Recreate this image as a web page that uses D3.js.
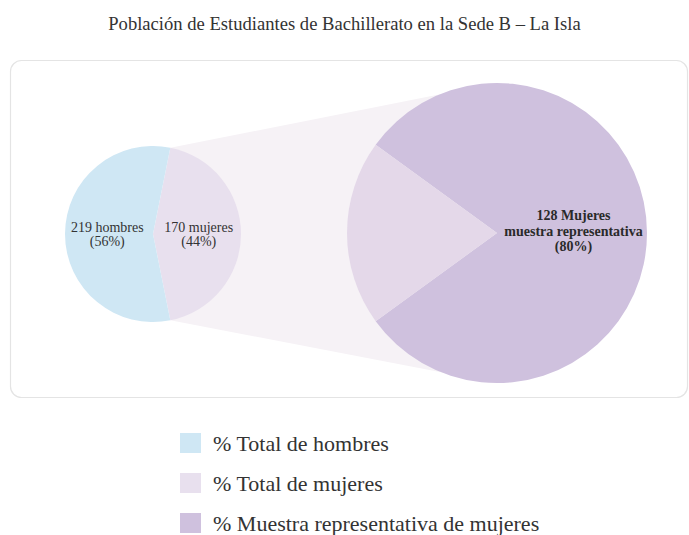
<!DOCTYPE html>
<html><head><meta charset="utf-8">
<script src="https://cdn.jsdelivr.net/npm/d3@7"></script>
<style>html,body{margin:0;padding:0;background:#fff;}svg{display:block;}</style>
</head><body>
<svg id="chart" width="689" height="535"></svg>
<script>
const title = "Población de Estudiantes de Bachillerato en la Sede B – La Isla";
const popCategories = ["mujeres", "hombres"];
const popValues = [170, 219];
const popPercents = [44, 56];
const popLabels = [["170 mujeres", "(44%)"], ["219 hombres", "(56%)"]];
const sampleCategories = ["muestra", "resto"];
const sampleValues = [80, 20];
const sampleLabel = ["128 Mujeres", "muestra representativa", "(80%)"];
const legendLabels = ["% Total de hombres", "% Total de mujeres", "% Muestra representativa de mujeres"];
const colors = {hombres: "#cfe7f4", mujeres: "#e8e0ee", muestra: "#cfc1de", resto: "#e4d8e9", connector: "#f6f2f6"};
const legendColors = [colors.hombres, colors.mujeres, colors.muestra];

const svg = d3.select("#chart");
const serif = "'Liberation Serif','Times New Roman',serif";

svg.append("text").attr("x", 344.5).attr("y", 30).attr("text-anchor", "middle")
  .attr("font-family", serif).attr("font-size", 18.6).attr("fill", "#333").text(title);

svg.append("rect").attr("x", 10.5).attr("y", 60.5).attr("width", 677).attr("height", 337)
  .attr("rx", 11).attr("fill", "#fff").attr("stroke", "#e4e4e4").attr("stroke-width", 1.2);

const c1 = [153, 234], r1 = 88;
const c2 = [497, 233], r2 = 150;
const total1 = d3.sum(popValues);
const span1 = popValues[0] / total1 * 2 * Math.PI;
const pie1 = d3.pie().sort(null).value(d => d)
  .startAngle(Math.PI / 2 - span1 / 2).endAngle(Math.PI / 2 - span1 / 2 + 2 * Math.PI);
const arcs1 = pie1(popValues);
const span2 = sampleValues[1] / d3.sum(sampleValues) * 2 * Math.PI;
const pie2 = d3.pie().sort(null).value(d => d)
  .startAngle(Math.PI * 1.5 + span2 / 2 - 2 * Math.PI).endAngle(Math.PI * 1.5 + span2 / 2);
const arcs2 = pie2(sampleValues);

// connector
const pt = (c, r, a) => [c[0] + r * Math.sin(a), c[1] - r * Math.cos(a)];
const pTop = pt(c1, r1, arcs1[0].startAngle), pBot = pt(c1, r1, arcs1[0].endAngle);
svg.append("path").attr("d", d3.line()([pTop, [c2[0], c2[1] - r2], [c2[0], c2[1] + r2], pBot]) + "Z")
  .attr("fill", colors.connector);

const arc1 = d3.arc().innerRadius(0).outerRadius(r1);
const g1 = svg.append("g").attr("transform", `translate(${c1})`);
g1.selectAll("path").data(arcs1).join("path").attr("d", arc1)
  .attr("fill", (d, i) => colors[popCategories[i]]);
const lab1 = d3.arc().innerRadius(r1 * 0.52).outerRadius(r1 * 0.52);
arcs1.forEach((d, i) => {
  const [x, y] = lab1.centroid(d);
  const t = g1.append("text").attr("text-anchor", "middle").attr("font-family", serif)
    .attr("font-size", 14).attr("fill", "#333");
  popLabels[i].forEach((s, j) => t.append("tspan").attr("x", x).attr("y", y - 2 + j * 14).text(s));
});

const arc2 = d3.arc().innerRadius(0).outerRadius(r2);
const g2 = svg.append("g").attr("transform", `translate(${c2})`);
g2.selectAll("path").data(arcs2).join("path").attr("d", arc2)
  .attr("fill", (d, i) => colors[sampleCategories[i]]);
const lab2 = d3.arc().innerRadius(r2 * 0.51).outerRadius(r2 * 0.51);
{
  const [x, y] = lab2.centroid(arcs2[0]);
  const t = g2.append("text").attr("text-anchor", "middle").attr("font-family", serif)
    .attr("font-size", 14).attr("font-weight", "bold").attr("fill", "#2a2a2a");
  sampleLabel.forEach((s, j) => t.append("tspan").attr("x", x).attr("y", y - 13 + j * 15.5).text(s));
}

// legend
const lg = svg.append("g");
legendLabels.forEach((s, i) => {
  const cy = 443 + i * 40;
  lg.append("rect").attr("x", 180).attr("y", cy - 10).attr("width", 21).attr("height", 20).attr("fill", legendColors[i]);
  lg.append("text").attr("x", 213).attr("y", cy + 8).attr("font-family", serif).attr("font-size", 22)
    .attr("fill", "#333").text(s);
});
</script>
</body></html>
